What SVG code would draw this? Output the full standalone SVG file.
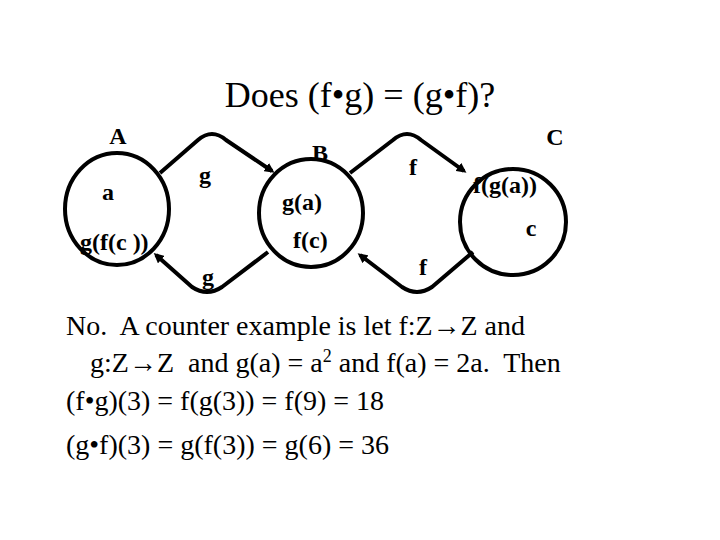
<svg xmlns="http://www.w3.org/2000/svg" width="720" height="540" viewBox="0 0 720 540">
<defs>
<marker id="ah" markerWidth="10" markerHeight="10" refX="7" refY="5" orient="auto" markerUnits="userSpaceOnUse"><path d="M0,0 L10,5 L0,10 Z" fill="#000"/></marker>
<style>
.n{fill:none;stroke:#000;stroke-width:4}
.c{fill:none;stroke:#000;stroke-width:4;marker-end:url(#ah);stroke-linejoin:round}
.l{font-family:"Liberation Serif",serif;font-weight:bold;font-size:24px;fill:#000}
.t{font-family:"Liberation Serif",serif;font-size:28px;fill:#000}
</style>
</defs>
<rect width="720" height="540" fill="#fff"/>
<text class="t" x="360" y="107" style="font-size:36px" text-anchor="middle">Does (f•g) = (g•f)?</text>
<g id="nodeA"><ellipse class="n" cx="117" cy="209" rx="52" ry="56"/><text class="l" x="118" y="144" text-anchor="middle">A</text><text class="l" x="108" y="200" text-anchor="middle">a</text><text class="l" x="80" y="250">g(f(c ))</text></g>
<g id="nodeB"><ellipse class="n" cx="311" cy="213" rx="52" ry="54"/><text class="l" x="320" y="161" text-anchor="middle">B</text><text class="l" x="282" y="210">g(a)</text><text class="l" x="293" y="248">f(c)</text></g>
<g id="nodeC"><ellipse class="n" cx="513" cy="222" rx="53" ry="53"/><text class="l" x="555" y="145" text-anchor="middle">C</text><text class="l" x="473" y="193">f(g(a))</text><text class="l" x="531" y="236" text-anchor="middle">c</text></g>
<g id="connectors">
<path class="c" d="M160,173 L198,140 Q212,128 226,140 L272,171"/>
<path class="c" d="M268,252 L222,287 Q207,297 192,287 L156,255"/>
<path class="c" d="M350,173 L393,140 Q407,128 421,140 L464,171"/>
<path class="c" d="M473,252 L432,287 Q417,297 402,287 L360,255"/>
<text class="l" x="205" y="183" text-anchor="middle">g</text>
<text class="l" x="208" y="285" text-anchor="middle">g</text>
<text class="l" x="413" y="175" text-anchor="middle">f</text>
<text class="l" x="423" y="275" text-anchor="middle">f</text>
</g>
<text class="t" x="66" y="335" textLength="459" lengthAdjust="spacingAndGlyphs" xml:space="preserve">No.  A counter example is let f:Z→Z and</text>
<text class="t" x="90" y="372" xml:space="preserve">g:Z→Z  and g(a) = a<tspan dy="-10" style="font-size:18px">2</tspan><tspan dy="10"> and f(a) = 2a.  Then</tspan></text>
<text class="t" x="66" y="410" textLength="318" lengthAdjust="spacingAndGlyphs">(f•g)(3) = f(g(3)) = f(9) = 18</text>
<text class="t" x="66" y="454" textLength="323" lengthAdjust="spacingAndGlyphs">(g•f)(3) = g(f(3)) = g(6) = 36</text>
</svg>
